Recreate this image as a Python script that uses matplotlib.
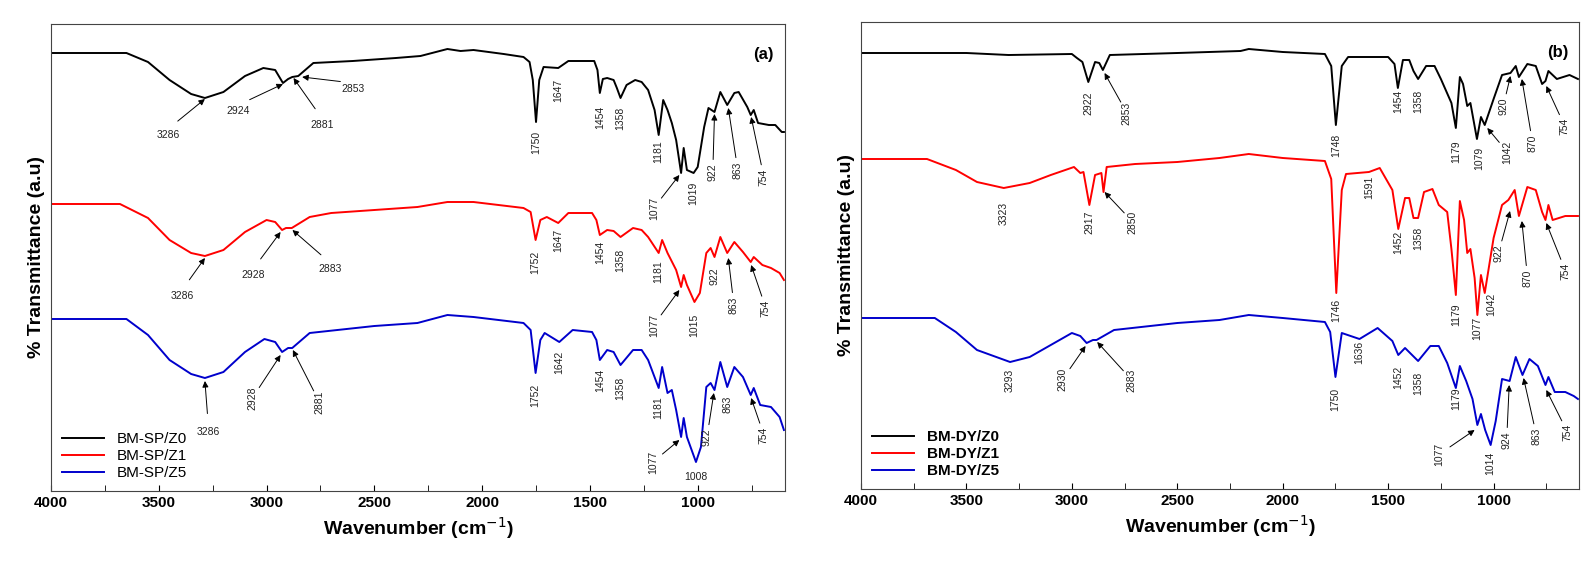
import matplotlib
matplotlib.use("Agg")
import matplotlib.pyplot as plt
import numpy as np

plt.rcParams['font.family'] = ['Liberation Sans', 'DejaVu Sans']

# ---------------- data (offset transmittance, arbitrary units; larger = lower on plot) ----
sp_z0_w = [4000,3650,3550,3450,3350,3286,3200,3100,3015,2960,2924,2900,2881,2853,2783,2600,2400,2286,2161,2100,2040,1900,1808,1780,1765,1750,1735,1715,1647,1600,1480,1465,1454,1440,1420,1390,1375,1358,1330,1290,1260,1230,1200,1181,1160,1140,1120,1100,1077,1065,1050,1019,1000,970,950,922,895,863,830,810,770,754,740,720,670,640,610,600]
sp_z0_y = [53,53,62,80,94,98,92,76,68,70,83,79,77,76,63,61,58,56,49,51,50,54,57,62,80,122,80,67,68,61,61,70,93,79,78,80,88,98,85,80,82,90,110,135,100,110,123,140,173,148,170,173,167,127,108,112,92,105,93,92,107,115,110,123,125,125,132,132]

sp_z1_w = [4000,3680,3550,3450,3350,3286,3200,3100,3000,2960,2928,2910,2883,2800,2700,2500,2300,2161,2040,1808,1775,1752,1730,1700,1647,1600,1490,1470,1454,1420,1390,1358,1300,1260,1230,1181,1165,1140,1100,1077,1065,1050,1015,990,960,940,922,895,863,830,790,754,740,700,660,620,600]
sp_z1_y = [204,204,218,240,253,256,250,232,220,222,230,228,228,217,213,210,207,202,202,208,212,240,220,217,223,213,213,220,235,230,231,237,228,230,237,253,240,253,270,287,275,285,302,293,253,248,257,237,253,242,252,262,257,265,268,273,280]

sp_z5_w = [4000,3650,3550,3450,3350,3286,3200,3100,3010,2960,2928,2900,2881,2800,2500,2300,2161,2040,1808,1775,1752,1730,1710,1642,1580,1490,1470,1454,1420,1390,1358,1300,1260,1230,1181,1165,1140,1120,1100,1077,1065,1050,1008,985,960,940,922,895,863,830,790,754,740,710,660,620,600]
sp_z5_y = [319,319,335,360,374,378,372,352,339,342,352,348,348,333,326,323,315,317,323,330,373,340,333,342,330,332,340,360,350,352,365,350,350,360,388,367,393,390,410,437,418,437,462,447,387,383,390,362,387,367,377,395,388,405,407,417,430]

dy_z0_w = [4000,3500,3300,3000,2976,2950,2922,2890,2870,2853,2820,2500,2200,2161,2000,1800,1770,1748,1720,1690,1500,1470,1454,1430,1400,1380,1358,1320,1280,1250,1200,1179,1160,1145,1125,1110,1079,1060,1042,1000,960,920,895,880,840,800,770,754,740,700,640,600]
dy_z0_y = [53,53,55,54,58,62,82,62,63,70,55,53,51,49,52,54,66,125,66,57,57,64,88,60,60,71,79,66,66,79,103,128,77,84,106,103,139,117,125,99,75,73,66,77,64,66,84,81,71,79,75,79]

dy_z1_w = [4000,3687,3550,3450,3323,3200,3100,2990,2960,2945,2917,2890,2860,2850,2835,2700,2500,2300,2161,2000,1800,1770,1746,1720,1700,1591,1540,1480,1452,1420,1400,1380,1358,1330,1290,1260,1220,1200,1179,1160,1140,1125,1110,1090,1077,1060,1042,1000,960,930,900,880,840,800,770,754,740,720,660,600]
dy_z1_y = [159,159,170,182,188,183,175,167,173,172,205,175,173,192,167,164,162,158,154,158,161,179,293,190,174,172,168,190,229,198,198,218,218,192,189,205,212,249,295,201,220,253,249,278,315,275,293,238,205,200,190,216,187,190,212,220,205,220,216,216]

dy_z5_w = [4000,3650,3550,3450,3293,3200,3100,3000,2960,2930,2900,2883,2800,2500,2300,2161,2000,1800,1775,1750,1720,1636,1550,1480,1452,1420,1358,1300,1260,1220,1179,1160,1130,1100,1077,1060,1040,1014,990,960,924,895,863,830,790,754,740,710,660,620,600]
dy_z5_y = [318,318,332,350,362,357,345,333,336,343,340,340,330,323,320,315,318,322,332,377,333,339,328,341,355,348,361,346,346,363,388,366,381,399,425,414,430,445,421,379,381,357,375,359,366,385,377,392,392,396,399]

# annotations: (label, text wavenumber, text row, rotation, arrow target (w,row) or None)
ann_a = [
    ("3286",3457,135,0,(3286,99)),("2924",3131,111,0,(2924,84)),("2881",2741,125,0,(2875,78)),
    ("2853",2600,89,0,(2835,77)),("1750",1750,142,90,None),("1647",1647,90,90,None),
    ("1454",1454,117,90,None),("1358",1358,118,90,None),("1181",1181,152,90,None),
    ("1077",1204,208,90,(1085,175)),("1019",1019,193,90,None),("922",930,172,90,(922,114)),
    ("863",814,170,90,(858,108)),("754",693,177,90,(752,117)),
    ("3286",3392,296,0,(3286,258)),("2928",3062,275,0,(2935,232)),("2883",2704,269,0,(2880,230)),
    ("1752",1752,262,90,None),("1647",1647,240,90,None),("1454",1454,252,90,None),
    ("1358",1358,260,90,None),("1181",1181,272,90,None),("1077",1204,325,90,(1085,290)),
    ("1015",1015,325,90,None),("922",922,276,90,None),("863",832,305,90,(858,258)),
    ("754",684,308,90,(752,265)),
    ("3286",3270,432,0,(3286,381)),("2928",3066,398,90,(2935,355)),("2881",2755,402,90,(2878,350)),
    ("1752",1752,395,90,None),("1642",1642,362,90,None),("1454",1454,380,90,None),
    ("1358",1358,388,90,None),("1181",1181,408,90,None),("1077",1208,462,90,(1085,440)),
    ("1008",1008,477,0,None),("922",957,437,90,(925,393)),("863",863,404,90,None),
    ("754",693,435,90,(752,398)),
]
ann_b = [
    ("2922",2922,103,90,None),("2853",2739,113,90,(2845,73)),("1748",1748,145,90,None),
    ("1454",1454,101,90,None),("1358",1358,101,90,None),("1179",1179,152,90,None),
    ("1079",1070,158,90,None),("1042",935,152,90,(1030,128)),("920",954,106,90,(920,76)),
    ("870",815,143,90,(866,79)),("754",663,126,90,(750,86)),
    ("3323",3323,213,90,None),("2917",2917,222,90,None),("2850",2711,222,90,(2845,192)),
    ("1746",1746,310,90,None),("1591",1591,187,90,None),("1452",1452,242,90,None),
    ("1358",1358,238,90,None),("1179",1179,315,90,None),("1077",1077,328,90,None),
    ("1042",1010,304,90,None),("922",977,253,90,(922,211)),("870",839,278,90,(866,221)),
    ("754",659,271,90,(750,223)),
    ("3293",3293,380,90,None),("2930",3043,379,90,(2935,346)),("2883",2716,380,90,(2880,342)),
    ("1750",1750,399,90,None),("1636",1636,352,90,None),("1452",1452,377,90,None),
    ("1358",1358,383,90,None),("1179",1179,399,90,None),("1077",1256,454,90,(1090,430)),
    ("1014",1014,463,90,None),("924",938,440,90,(926,385)),("863",796,436,90,(858,378)),
    ("754",650,432,90,(750,390)),
]

ticks = [4000,3500,3000,2500,2000,1500,1000]

fig = plt.figure(figsize=(15.94,5.71), dpi=100)
axa = fig.add_axes([51/1594, (571-491)/571, 734/1594, 467/571])
axb = fig.add_axes([861/1594, (571-489)/571, 718/1594, 467/571])

def panel(ax, series, names, anns, tag, bold_leg):
    for (w,y),c,n in zip(series, ['black','red','#0000cc'], names):
        ax.plot(w, y, color=c, lw=1.4, label=n)
    ax.set_xlim(4000, 595)
    ax.set_ylim(491 if ax is axa else 489, 24 if ax is axa else 22)
    ax.set_xticks(ticks)
    ax.set_xticks(np.arange(3750, 600, -500), minor=True)
    ax.set_yticks([])
    ax.tick_params(axis='x', which='both', direction='in', length=4, labelsize=11)
    for lab in ax.get_xticklabels():
        lab.set_fontweight('bold')
    ax.set_xlabel('Wavenumber (cm$^{-1}$)', fontsize=14, fontweight='bold')
    ax.set_ylabel('% Transmittance (a.u)', fontsize=14, fontweight='bold')
    for lbl, tw, tr, rot, tgt in anns:
        ax.text(tw, tr, lbl, rotation=rot, fontsize=7.5, ha='center', va='center', color='#222222')
        if tgt is not None:
            ax.annotate('', xy=tgt, xytext=(tw, tr - (6 if rot == 0 else 0)),
                        arrowprops=dict(arrowstyle='-|>', color='black', lw=0.7,
                                        mutation_scale=9, shrinkA=9, shrinkB=0))
    ax.text(0.985, 0.95, tag, transform=ax.transAxes, ha='right', va='top',
            fontsize=12, fontweight='bold')
    leg = ax.legend(loc='lower left', frameon=False, fontsize=11, handlelength=2.8,
                    borderaxespad=0.3, labelspacing=0.2,
                    prop=dict(weight='bold' if bold_leg else 'normal', size=11))
    for sp in ax.spines.values():
        sp.set_color('#444444')

panel(axa, [(sp_z0_w, sp_z0_y), (sp_z1_w, sp_z1_y), (sp_z5_w, sp_z5_y)],
      ['BM-SP/Z0','BM-SP/Z1','BM-SP/Z5'], ann_a, '(a)', False)
panel(axb, [(dy_z0_w, dy_z0_y), (dy_z1_w, dy_z1_y), (dy_z5_w, dy_z5_y)],
      ['BM-DY/Z0','BM-DY/Z1','BM-DY/Z5'], ann_b, '(b)', True)

fig.savefig('out.png', dpi=100)
